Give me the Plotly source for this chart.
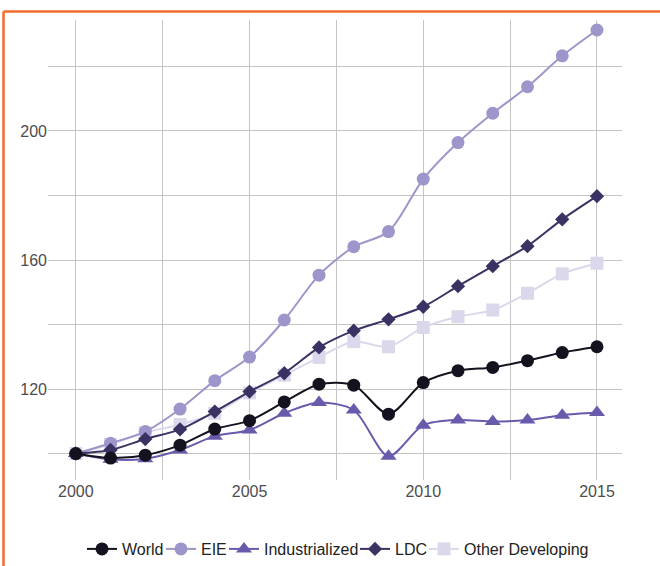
import plotly.graph_objects as go

years = list(range(2000, 2016))

world = [100, 98.6, 99.5, 102.6, 107.6, 110.2, 116.0, 121.5, 121.2, 112.2, 122.0, 125.7, 126.7, 128.8, 131.3, 133.1]
eie = [100, 103.2, 106.8, 113.8, 122.6, 129.9, 141.4, 155.3, 164.1, 168.8, 185.1, 196.4, 205.5, 213.7, 223.3, 231.3]
industrialized = [100, 98.2, 98.4, 101.1, 105.4, 107.3, 112.5, 115.8, 113.5, 99.2, 108.8, 110.4, 109.9, 110.4, 111.9, 112.7]
ldc = [100, 101.1, 104.5, 107.5, 113.0, 119.2, 124.9, 132.9, 138.1, 141.6, 145.5, 151.9, 158.1, 164.3, 172.6, 179.8]
other_dev = [100, 102.8, 106.5, 109.0, 112.5, 118.8, 124.3, 129.8, 134.7, 133.1, 139.1, 142.4, 144.5, 149.7, 155.7, 159.0]

series_names = ["World", "EIE", "Industrialized", "LDC", "Other Developing"]
series_values = [world, eie, industrialized, ldc, other_dev]
colors = ["#15121f", "#9d96ca", "#6a5aab", "#3b3264", "#dbd8eb"]
symbols = ["circle", "circle", "triangle-up", "diamond", "square"]
msizes = [13, 13, 14, 11, 13]

x_tickvals = [2000, 2002.5, 2005, 2007.5, 2010, 2012.5, 2015]
x_ticktext = ["2000", "", "2005", "", "2010", "", "2015"]
y_tickvals = [100, 120, 140, 160, 180, 200, 220]
y_ticktext = ["", "120", "", "160", "", "200", ""]

# legend entry text start positions (pixels from page left)
legend_text_px = [122, 201, 264, 395, 464]

L, R, T, B = 48, 38, 20, 86
W, H = 660, 566
plot_w = W - L - R

fig = go.Figure()
order = [4, 1, 3, 2, 0]
legend_ids = ["legend", "legend2", "legend3", "legend4", "legend5"]
for i in order:
    fig.add_trace(go.Scatter(
        x=years, y=series_values[i], name=series_names[i], mode="lines+markers",
        line=dict(color=colors[i], width=2, shape="spline", smoothing=0.8),
        marker=dict(color=colors[i], symbol=symbols[i], size=msizes[i]),
        legend=legend_ids[i],
    ))

grid = "#c4c4c4"
layout_legends = {}
for k, lid in enumerate(legend_ids):
    layout_legends[lid] = dict(
        orientation="h", x=(legend_text_px[k] - 40 - L) / plot_w, xanchor="left",
        y=-0.15, yanchor="middle", itemwidth=30,
        font=dict(family="Arial", size=16, color="#222222"),
        bgcolor="rgba(0,0,0,0)",
    )

fig.update_layout(
    width=W, height=H,
    margin=dict(l=L, r=R, t=T, b=B, autoexpand=False),
    paper_bgcolor="white", plot_bgcolor="white",
    font=dict(family="Arial", size=16, color="#222222"),
    xaxis=dict(range=[1999.2, 2015.72], tickvals=x_tickvals, ticktext=x_ticktext,
               showgrid=True, gridcolor=grid, gridwidth=1, zeroline=False, automargin=False,
               showline=False, ticks="", tickfont=dict(family="Arial", color="#4d4d4d", size=16)),
    yaxis=dict(range=[91.8, 234.4], tickvals=y_tickvals, ticktext=y_ticktext,
               showgrid=True, gridcolor=grid, gridwidth=1, zeroline=False, automargin=False,
               showline=False, ticks="", tickfont=dict(family="Arial", color="#4d4d4d", size=16)),
    showlegend=True,
    shapes=[
        dict(type="line", xref="paper", yref="paper", x0=-0.0775, x1=-0.0775, y0=-0.3, y1=1.0185,
             line=dict(color="#f26b2d", width=2.5)),
        dict(type="line", xref="paper", yref="paper", x0=-0.0775, x1=1.2, y0=1.0185, y1=1.0185,
             line=dict(color="#f26b2d", width=2.5)),
    ],
    **layout_legends,
)

fig.write_html("out.html", config={"displayModeBar": False},
               post_script="document.body.style.margin='0';")
